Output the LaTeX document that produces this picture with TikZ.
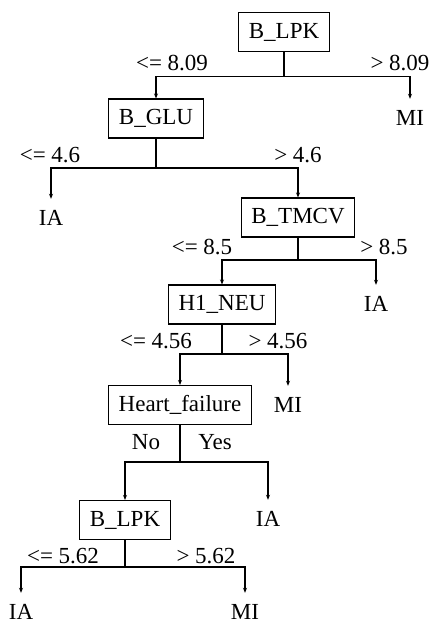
\documentclass[tikz,border=0pt]{standalone}
\usepackage{fontspec}
\setmainfont{Liberation Serif}
\usetikzlibrary{arrows.meta}
\begin{document}
\begin{tikzpicture}[x = 1pt, y = -1pt, font = \fontsize{23}{26}\selectfont,
    split/.style = {draw, inner xsep = 10pt, inner ysep = 0pt, minimum height = 39pt, line width = 1.1pt},
    leaf/.style = {inner sep = 0pt, minimum height = 38pt},
    cond/.style = {inner sep = 0pt},
    edge/.style = {line width = 1.2pt},
    branch/.style = {edge, -{Stealth[length = 5pt, width = 4pt]}}]
    \useasboundingbox (0,0) rectangle (432,624);
    % splitting nodes
    \node [split] (lpk)   at (284,32)    {B\_LPK};
    \node [split] (glu)   at (156,118.5) {B\_GLU};
    \node [split] (tmcv)  at (298,217.5) {B\_TMCV};
    \node [split] (neu)   at (222,304.5) {H1\_NEU};
    \node [split] (heart) at (180,405)   {Heart\_failure};
    \node [split] (lpkb)  at (125,520)   {B\_LPK};
    % leaves
    \node [leaf] (mia) at (410,118) {MI};
    \node [leaf] (iaa) at (51,218)  {IA};
    \node [leaf] (iab) at (376,304) {IA};
    \node [leaf] (mib) at (288,405) {MI};
    \node [leaf] (iac) at (268,519) {IA};
    \node [leaf] (iad) at (21,612)  {IA};
    \node [leaf] (mic) at (245,612) {MI};
    % junctions
    \coordinate (j1) at (lpk.south |- 0,76.5);
    \coordinate (j2) at (glu.south |- 0,168);
    \coordinate (j3) at (tmcv.south |- 0,260);
    \coordinate (j4) at (neu.south |- 0,354);
    \coordinate (j5) at (heart.south |- 0,462);
    \coordinate (j6) at (lpkb.south |- 0,567);
    \draw [edge] (lpk) -- (j1);
    \draw [branch] (j1) -| (glu);
    \draw [branch] (j1) -| (mia);
    \draw [edge] (glu) -- (j2);
    \draw [branch] (j2) -| (iaa);
    \draw [branch] (j2) -| (tmcv);
    \draw [edge] (tmcv) -- (j3);
    \draw [branch] (j3) -| (neu);
    \draw [branch] (j3) -| (iab);
    \draw [edge] (neu) -- (j4);
    \draw [branch] (j4) -| (heart);
    \draw [branch] (j4) -| (mib);
    \draw [edge] (heart) -- (j5);
    \draw [branch] (j5) -| (lpkb);
    \draw [branch] (j5) -| (iac);
    \draw [edge] (lpkb) -- (j6);
    \draw [branch] (j6) -| (iad);
    \draw [branch] (j6) -| (mic);
    % conditions
    \node [cond] (c1l) at (172,63)  {<= 8.09};
    \node [cond] (c1r) at (400,63)  {> 8.09};
    \node [cond] (c2l) at (50,155)  {<= 4.6};
    \node [cond] (c2r) at (298,155) {> 4.6};
    \node [cond] (c3l) at (202,247) {<= 8.5};
    \node [cond] (c3r) at (384,247) {> 8.5};
    \node [cond] (c4l) at (156,341) {<= 4.56};
    \node [cond] (c4r) at (278,341) {> 4.56};
    \node [cond] (c5l) at (146,442) {No};
    \node [cond] (c5r) at (215,442) {Yes};
    \node [cond] (c6l) at (63,556)  {<= 5.62};
    \node [cond] (c6r) at (206,556) {> 5.62};
\end{tikzpicture}
\end{document}
